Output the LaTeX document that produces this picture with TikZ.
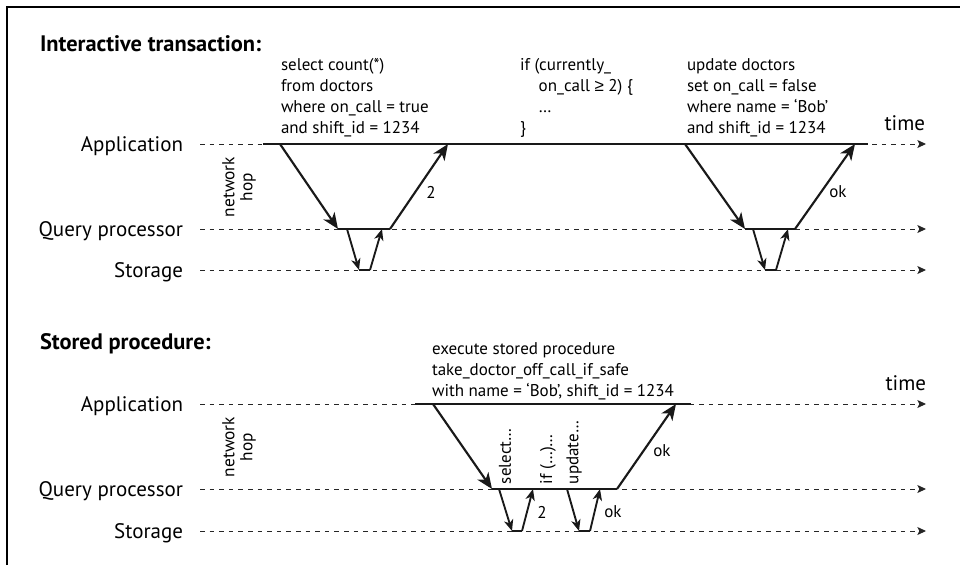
\documentclass[tikz,border=0pt]{standalone}
\usepackage{fontspec}
\setmainfont{PT Sans}
\newfontfamily\symfont{Liberation Sans}
\usetikzlibrary{arrows.meta}
\newcommand\codelines[1]{\begin{tabular}[t]{@{}l@{}}#1\end{tabular}}
\begin{document}
\begin{tikzpicture}[x=0.75pt,y=-0.75pt,
  every node/.style={inner sep=0pt, outer sep=0pt},
  lanelbl/.style={anchor=base east, font=\fontsize{15.75}{19}\selectfont},
  title/.style={anchor=base west, font=\fontsize{16.8}{20}\selectfont\bfseries},
  code/.style={anchor=base west, font=\fontsize{12.75}{15.75}\selectfont},
  small/.style={font=\fontsize{12.75}{15.75}\selectfont},
  hop/.style={rotate=90, align=center, font=\fontsize{13}{13.5}\selectfont},
  vert/.style={rotate=90, anchor=west, font=\fontsize{12.75}{15.75}\selectfont},
  timeline/.style={draw=black!85, line width=0.75pt, dash pattern=on 3.4pt off 3.8pt, -{Stealth[length=6.5pt,width=6pt,inset=1.5pt]}},
  busy/.style={draw=black!90, line width=2pt},
  busyq/.style={draw=black!90, line width=1.6pt},
  msg/.style={draw=black!90, line width=1.6pt, -{Stealth[length=12pt,width=10pt,inset=3.5pt]}},
  smsg/.style={draw=black!90, line width=1.4pt, -{Stealth[length=8.5pt,width=7pt,inset=2.5pt]}},
]
\useasboundingbox (0,0) rectangle (960,565);
\draw[line width=1.1pt] (7,565) -- (7,7) -- (960,7);

% ---------------- Interactive transaction ----------------
\node[title] (t1) at (40,51) {Interactive transaction:};
\node[lanelbl] (app1) at (183,151.5) {Application};
\node[lanelbl] (qp1) at (183,236.5) {Query processor};
\node[lanelbl] (st1) at (183,277.5) {Storage};
\node[hop] (hop1) at (239,187) {network\\hop};
\node[lanelbl] (time1) at (925,130) {time};

\coordinate (A1s) at (200,144); \coordinate (A1e) at (926,144);
\coordinate (Q1s) at (200,229); \coordinate (Q1e) at (926,229);
\coordinate (S1s) at (200,270); \coordinate (S1e) at (926,270);
\draw[timeline] (A1s) -- (A1e);
\draw[timeline] (Q1s) -- (Q1e);
\draw[timeline] (S1s) -- (S1e);

\node[code] (c1) at (281,70) {\codelines{select count(*)\\from doctors\\where on\_call = true\\and shift\_id = 1234}};
\node[code] (c2) at (520,70) {\codelines{if (currently\_\\\hspace*{14pt}on\_call {\symfont ≥} 2) \{\\\hspace*{14pt}…\\\}}};
\node[code] (c3) at (687,70) {\codelines{update doctors\\set on\_call = false\\where name = ‘Bob’\\and shift\_id = 1234}};

\coordinate (b1s) at (263,144); \coordinate (b1e) at (868,144);
\draw[busy] (b1s) -- (b1e);

% first round trip
\coordinate (p1) at (280,144); \coordinate (p2) at (338,229);
\coordinate (p3) at (390,229); \coordinate (p4) at (448,144);
\draw[busyq] (p2) -- (p3);
\draw[msg] (p1) -- (p2);
\draw[msg] (p3) -- (p4);
\node[small] (r1) at (431,192) {2};
\coordinate (s1) at (347,229); \coordinate (s2) at (359,270);
\coordinate (s3) at (370,270); \coordinate (s4) at (382,229);
\draw[busyq] (s2) -- (s3);
\draw[smsg] (s1) -- (s2);
\draw[smsg] (s3) -- (s4);

% second round trip
\coordinate (u1) at (685,144); \coordinate (u2) at (745,229);
\coordinate (u3) at (795,229); \coordinate (u4) at (855,144);
\draw[busyq] (u2) -- (u3);
\draw[msg] (u1) -- (u2);
\draw[msg] (u3) -- (u4);
\node[small] (r2) at (838,192) {ok};
\coordinate (v1) at (753,229); \coordinate (v2) at (765,270);
\coordinate (v3) at (776,270); \coordinate (v4) at (788,229);
\draw[busyq] (v2) -- (v3);
\draw[smsg] (v1) -- (v2);
\draw[smsg] (v3) -- (v4);

% ---------------- Stored procedure ----------------
\node[title] (t2) at (40,349) {Stored procedure:};
\node[lanelbl] (app2) at (183,411.5) {Application};
\node[lanelbl] (qp2) at (183,496.5) {Query processor};
\node[lanelbl] (st2) at (183,538.5) {Storage};
\node[hop] (hop2) at (239,447) {network\\hop};
\node[lanelbl] (time2) at (926,390) {time};

\coordinate (A2s) at (200,404); \coordinate (A2e) at (926,404);
\coordinate (Q2s) at (200,489); \coordinate (Q2e) at (926,489);
\coordinate (S2s) at (200,531); \coordinate (S2e) at (926,531);
\draw[timeline] (A2s) -- (A2e);
\draw[timeline] (Q2s) -- (Q2e);
\draw[timeline] (S2s) -- (S2e);

\node[code] (c4) at (432,354) {\codelines{execute stored procedure\\take\_doctor\_off\_call\_if\_safe\\with name = ‘Bob’, shift\_id = 1234}};

\coordinate (b2s) at (415,404); \coordinate (b2e) at (691,404);
\draw[busy] (b2s) -- (b2e);

\coordinate (w1) at (433,404); \coordinate (w2) at (492,489);
\coordinate (w3) at (617,489); \coordinate (w4) at (676,404);
\draw[busyq] (w2) -- (w3);
\draw[msg] (w1) -- (w2);
\draw[msg] (w3) -- (w4);
\node[small] (r3) at (662,451) {ok};

\coordinate (x1) at (499,489); \coordinate (x2) at (512,531);
\coordinate (x3) at (522,531); \coordinate (x4) at (533,489);
\draw[busyq] (x2) -- (x3);
\draw[smsg] (x1) -- (x2);
\draw[smsg] (x3) -- (x4);
\node[small] (r4) at (542,512) {2};

\coordinate (y1) at (567,489); \coordinate (y2) at (579,531);
\coordinate (y3) at (590,531); \coordinate (y4) at (600,489);
\draw[busyq] (y2) -- (y3);
\draw[smsg] (y1) -- (y2);
\draw[smsg] (y3) -- (y4);
\node[small] (r5) at (613,512) {ok};

\node[vert] (v-sel) at (505,484) {select…};
\node[vert] (v-if) at (548,484) {if (…)…};
\node[vert] (v-upd) at (574,484) {update…};
\end{tikzpicture}
\end{document}
